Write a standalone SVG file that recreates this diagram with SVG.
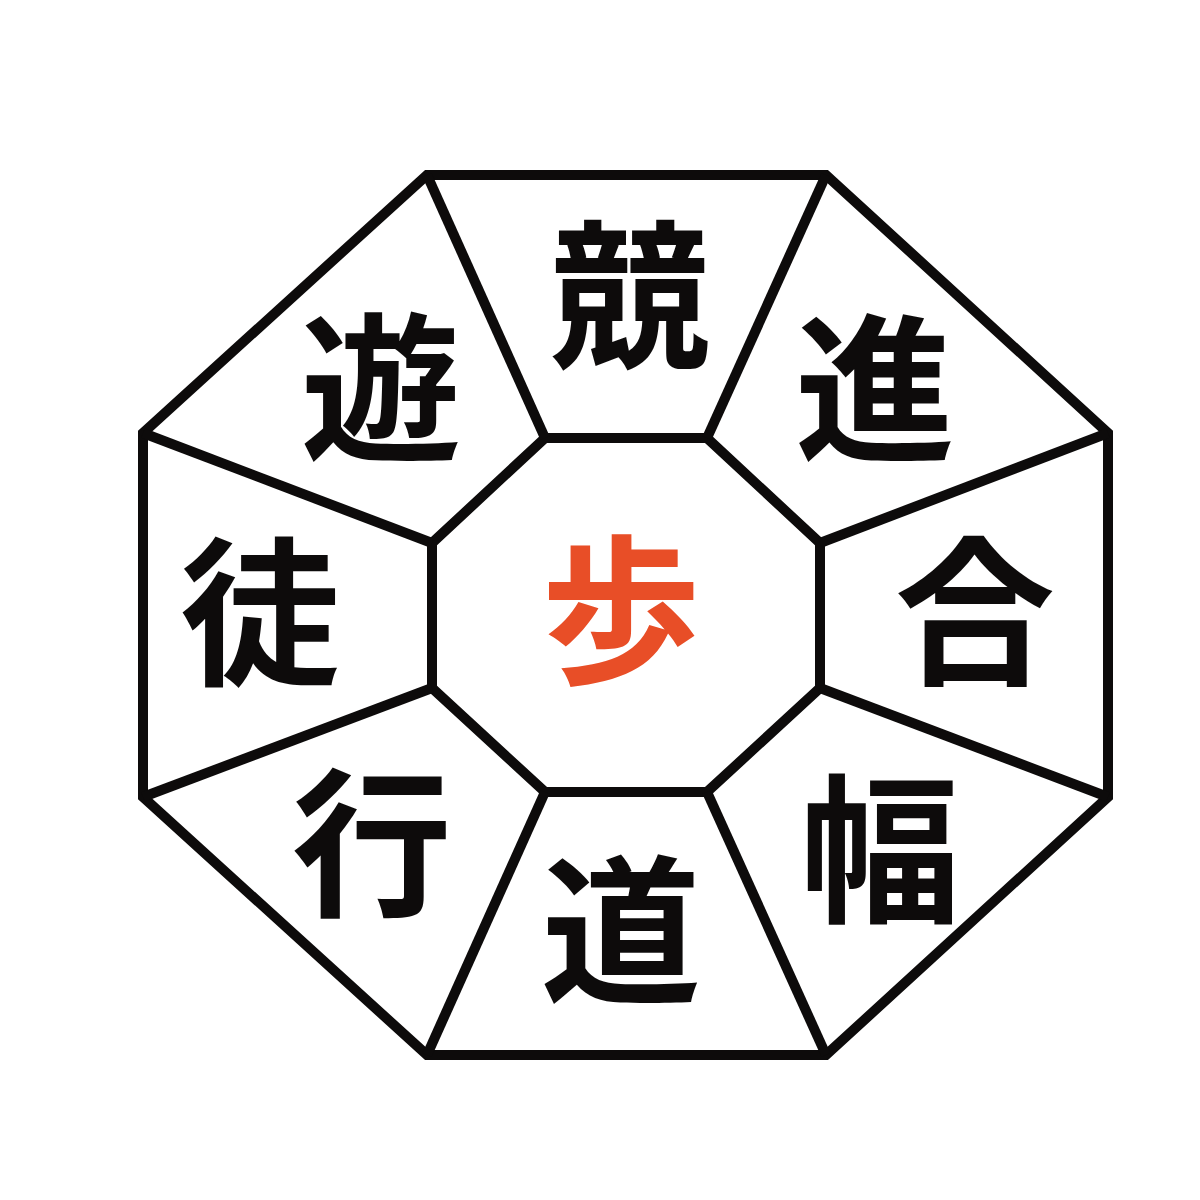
<svg xmlns="http://www.w3.org/2000/svg" width="1200" height="1200" viewBox="0 0 1200 1200">
<style>
.ln{fill:none;stroke:#0d0b0b;stroke-width:10;stroke-linejoin:miter}
.k{font-family:"Noto Sans CJK JP","Noto Sans CJK SC",sans-serif;font-weight:bold;font-size:160px;fill:#0d0b0b;text-anchor:middle}
.c{fill:#e84e27}
</style>
<rect width="1200" height="1200" fill="#fff"/>
<g id="connectors">
<polygon class="ln" points="427,175 826,175 1108,433 1108,797 826,1055 427,1055 143,797 143,433"/>
<polygon class="ln" points="545,438 707,438 820,543 820,688 707,792 545,792 432,688 432,543"/>
<line class="ln" x1="427" y1="175" x2="545" y2="438"/>
<line class="ln" x1="826" y1="175" x2="707" y2="438"/>
<line class="ln" x1="1108" y1="433" x2="820" y2="543"/>
<line class="ln" x1="1108" y1="797" x2="820" y2="688"/>
<line class="ln" x1="826" y1="1055" x2="707" y2="792"/>
<line class="ln" x1="427" y1="1055" x2="545" y2="792"/>
<line class="ln" x1="143" y1="797" x2="432" y2="688"/>
<line class="ln" x1="143" y1="433" x2="432" y2="543"/>
</g>
<g id="n-kyo"><text class="k" x="630" y="356">競</text></g>
<g id="n-shin"><text class="k" x="875" y="449">進</text></g>
<g id="n-go"><text class="k" x="975" y="672">合</text></g>
<g id="n-haba"><text class="k" x="880" y="910">幅</text></g>
<g id="n-do"><text class="k" x="621" y="991">道</text></g>
<g id="n-ko"><text class="k" x="372" y="904">行</text></g>
<g id="n-to"><text class="k" x="260" y="673">徒</text></g>
<g id="n-yu"><text class="k" x="381" y="449">遊</text></g>
<g id="n-ho"><text class="k c" x="621" y="671">歩</text></g>
</svg>
